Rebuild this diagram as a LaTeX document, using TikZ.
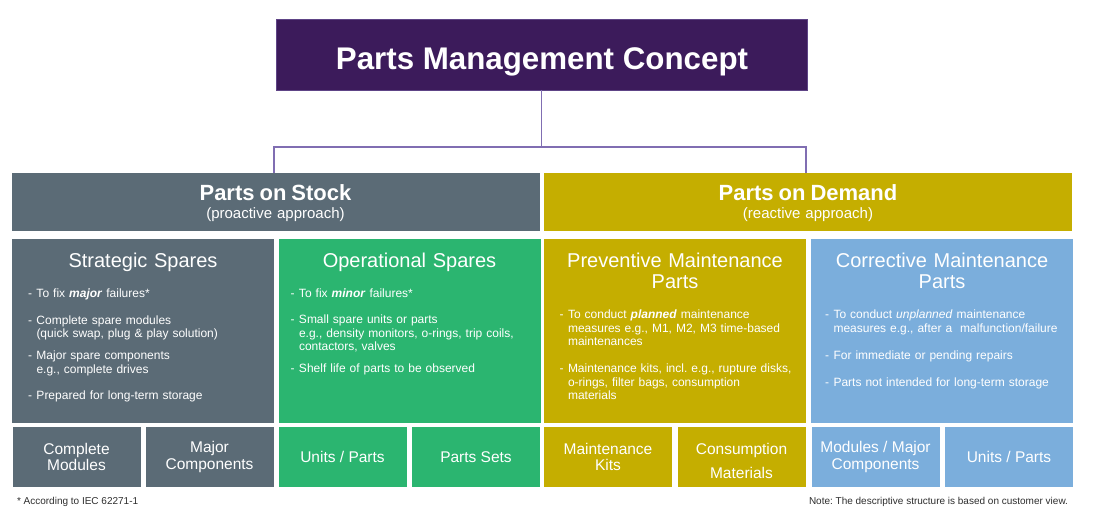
\documentclass[tikz,border=0pt]{standalone}
\usepackage{fontspec}
\setmainfont{Liberation Sans}
\usetikzlibrary{positioning}
\definecolor{pmpurple}{RGB}{60,27,91}
\definecolor{pmline}{RGB}{128,110,178}
\definecolor{pmslate}{RGB}{91,107,118}
\definecolor{pmgreen}{RGB}{43,181,112}
\definecolor{pmgold}{RGB}{197,174,0}
\definecolor{pmblue}{RGB}{123,174,220}
\definecolor{pmnote}{RGB}{45,45,45}
\frenchspacing
\newcommand{\ditem}[1]{\par\noindent\hangindent=8.5pt\hangafter=1\hbox to 8.5pt{-\hfil}#1\par}

\begin{document}
\begin{tikzpicture}[x=1pt, y=-1pt,
  every node/.style={inner sep=0pt, outer sep=0pt, text=white},
  head/.style={rectangle, minimum width=528pt, minimum height=58pt},
  column/.style={rectangle, minimum width=262pt, minimum height=183.5pt},
  tile/.style={rectangle, minimum width=128pt, minimum height=59.5pt, align=center, font=\fontsize{15.5}{16.5}\selectfont},
  headtext/.style={anchor=north, text width=500pt, align=center, font=\fontsize{15}{18}\selectfont},
  coltitle/.style={anchor=north, text width=250pt, align=center, font=\fontsize{20}{21}\selectfont},
  bullets/.style={anchor=north west, text width=245pt, align=left, font=\fontsize{12}{13.5}\selectfont},
  footnote/.style={anchor=base, text=pmnote, font=\fontsize{10}{12}\selectfont},
  link/.style={draw=pmline, line width=1.3pt}]
\useasboundingbox (0,0) rectangle (1100,518);

\node[rectangle, fill=pmpurple, draw=pmline!50!pmpurple, line width=0.6pt, minimum width=531pt, minimum height=71pt] (title) at (541.5,54.5) {};
\node[anchor=base, font=\fontsize{31.3}{34}\selectfont\bfseries] (title-t) at (542,69.3) {Parts Management Concept};

\node[head, fill=pmslate] (stock) at (275.5,202) {};
\node[head, fill=pmgold] (demand) at (808,202) {};
\node[headtext] (stock-t) at (275.5,184.5) {{\fontsize{22}{18}\selectfont\bfseries Parts on Stock\par}(proactive approach)};
\node[headtext] (demand-t) at (808,184.5) {{\fontsize{22}{18}\selectfont\bfseries Parts on Demand\par}(reactive approach)};

\node[column, fill=pmslate] (strat) at (143,330.75) {};
\node[column, fill=pmgreen] (oper) at (409.5,330.75) {};
\node[column, fill=pmgold] (prev) at (675,330.75) {};
\node[column, fill=pmblue] (corr) at (942,330.75) {};

\node[coltitle] (strat-t) at (143,252.6) {Strategic Spares};
\node[coltitle] (oper-t) at (409.5,252.6) {Operational Spares};
\node[coltitle] (prev-t) at (675,253.4) {Preventive Maintenance\par Parts};
\node[coltitle] (corr-t) at (942,253.4) {Corrective Maintenance\par Parts};

\node[bullets] (strat-b) at (28,283.7) {%
  \ditem{To fix \textbf{\textit{major}} failures*}\vspace{13.5pt}
  \ditem{Complete spare modules\newline (quick swap, plug \& play solution)}\vspace{8.5pt}
  \ditem{Major spare components\newline e.g., complete drives}\vspace{12.5pt}
  \ditem{Prepared for long-term storage}};
\node[bullets] (oper-b) at (290.5,284.2) {%
  \ditem{To fix \textbf{\textit{minor}} failures*}\vspace{12.5pt}
  \ditem{Small spare units or parts\newline e.g., density monitors, o-rings, trip coils,\newline contactors, valves}\vspace{8.5pt}
  \ditem{Shelf life of parts to be observed}};
\node[bullets] (prev-b) at (559.5,305.2) {%
  \ditem{To conduct \textbf{\textit{planned}} maintenance\newline measures e.g., M1, M2, M3 time-based\newline maintenances}\vspace{13.5pt}
  \ditem{Maintenance kits, incl. e.g., rupture disks,\newline o-rings, filter bags, consumption\newline materials}};
\node[bullets] (corr-b) at (825,305.2) {%
  \ditem{To conduct \textit{unplanned} maintenance\newline measures e.g., after a\ \ malfunction/failure}\vspace{13.5pt}
  \ditem{For immediate or pending repairs}\vspace{13.5pt}
  \ditem{Parts not intended for long-term storage}};

\node[tile, fill=pmslate] (complete) at (76.5,457) {Complete\\Modules};
\node[tile, fill=pmslate] (major) at (209.5,457) {Major\\Components};
\node[tile, fill=pmgreen] (units) at (342.5,457) {Units / Parts};
\node[tile, fill=pmgreen] (sets) at (476,457) {Parts Sets};
\node[tile, fill=pmgold] (kits) at (608,457) {Maintenance\\Kits};
\node[tile, fill=pmgold] (consum) at (741.5,457) {\rule{0pt}{19.3pt}Consumption\\[8pt]Materials};
\node[tile, fill=pmblue] (modules) at (875.5,457) {Modules / Major\\Components};
\node[tile, fill=pmblue] (units2) at (1009,457) {Units / Parts};

\node[footnote, anchor=base west] (iec) at (17,504.6) {* According to IEC 62271-1};
\node[footnote, anchor=base east] (note) at (1068,504.6) {Note: The descriptive structure is based on customer view.};

\coordinate (fork) at (541.5,147);
\draw[link] (title.south) -- (fork);
\draw[link] (stock.north -| strat.east) |- (fork) -| (demand.north -| prev.east);
\end{tikzpicture}
\end{document}
